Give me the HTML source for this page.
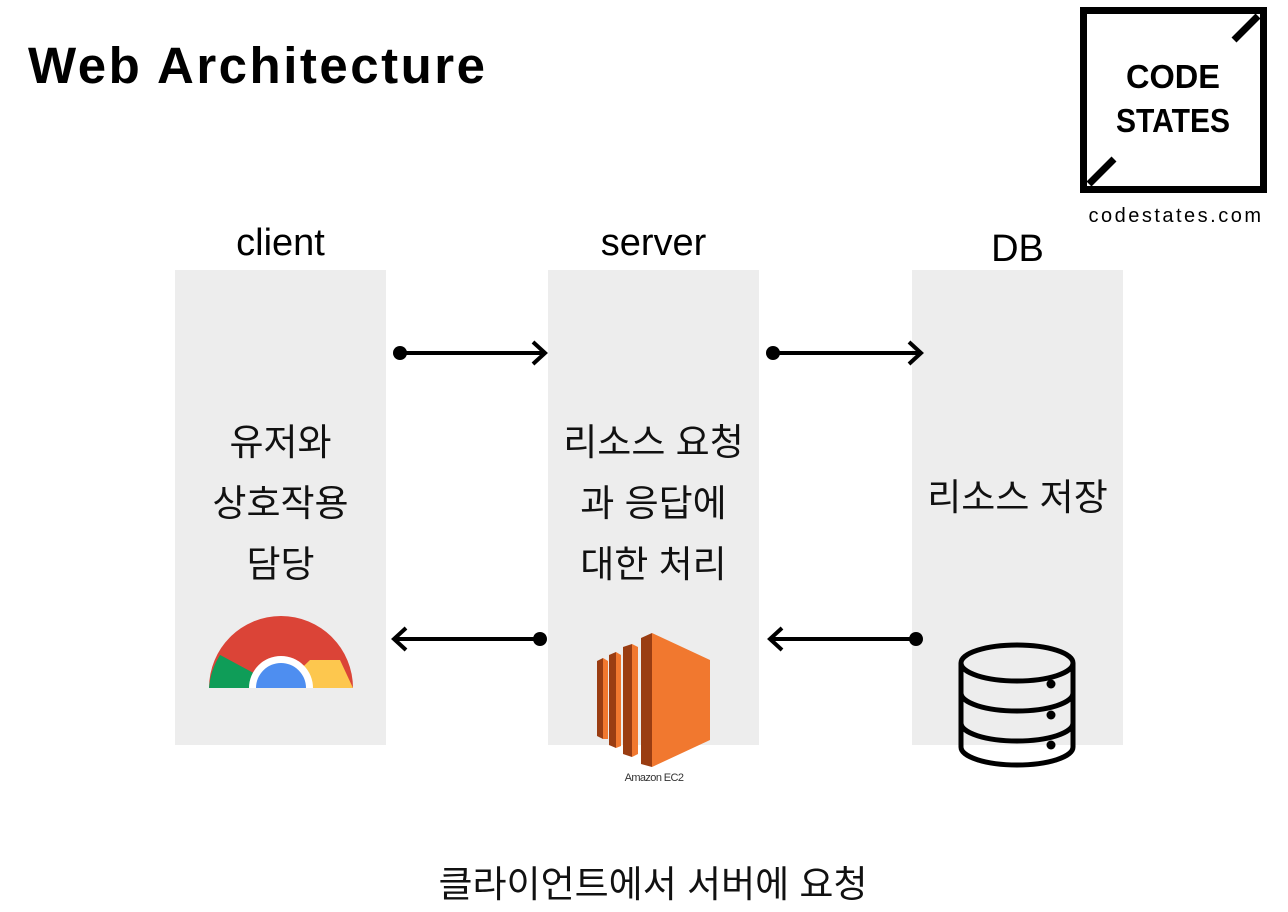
<!DOCTYPE html>
<html><head><meta charset="utf-8"><style>
body{margin:0;width:1288px;height:912px;background:#fff;position:relative;overflow:hidden;font-family:"Liberation Sans","Noto Sans CJK KR",sans-serif;}
.t{position:absolute;color:#000;}
.box{position:absolute;background:#ededed;top:270px;height:475px;width:211px;}
.k{position:absolute;text-align:center;font-size:37px;line-height:61px;color:#111;}
</style></head><body>
<div class="t" style="left:28px;top:36px;font-size:51px;font-weight:bold;letter-spacing:2.5px">Web Architecture</div>
<div class="box" style="left:175px"></div>
<div class="box" style="left:548px"></div>
<div class="box" style="left:912px"></div>
<div class="t" style="left:175px;width:211px;text-align:center;top:222px;font-size:38px">client</div>
<div class="t" style="left:548px;width:211px;text-align:center;top:222px;font-size:38px">server</div>
<div class="t" style="left:912px;width:211px;text-align:center;top:228px;font-size:38px">DB</div>
<div class="k" style="left:175px;width:211px;top:412px">유저와<br>상호작용<br>담당</div>
<div class="k" style="left:548px;width:211px;top:412px">리소스 요청<br>과 응답에<br>대한 처리</div>
<div class="k" style="left:912px;width:211px;top:467px">리소스 저장</div>
<div class="t" style="left:0;width:1306px;text-align:center;top:854px;font-size:37px;color:#111">클라이언트에서 서버에 요청</div>
<div class="t" style="left:1076px;width:200px;text-align:center;top:205px;font-size:20px;letter-spacing:2.5px">codestates.com</div>
<svg width="1288" height="912" style="position:absolute;left:0;top:0">
<g stroke="#000" stroke-width="4" fill="none">
<line x1="400" y1="353" x2="545" y2="353"/><polyline points="533,342 545,353 533,364"/>
<line x1="773" y1="353" x2="921" y2="353"/><polyline points="909,342 921,353 909,364"/>
<line x1="540" y1="639" x2="394" y2="639"/><polyline points="406,628 394,639 406,650"/>
<line x1="916" y1="639" x2="770" y2="639"/><polyline points="782,628 770,639 782,650"/>
</g>
<g fill="#000"><circle cx="400" cy="353" r="7"/><circle cx="773" cy="353" r="7"/><circle cx="540" cy="639" r="7"/><circle cx="916" cy="639" r="7"/></g>
<rect x="1083.5" y="10.5" width="180" height="179" fill="none" stroke="#000" stroke-width="7"/>
<line x1="1234" y1="40" x2="1258" y2="16" stroke="#000" stroke-width="7"/>
<line x1="1089" y1="184" x2="1114" y2="159" stroke="#000" stroke-width="7"/>
<text x="1173" y="88" text-anchor="middle" font-family="Liberation Sans" font-weight="bold" font-size="33" textLength="94" lengthAdjust="spacingAndGlyphs">CODE</text>
<text x="1173" y="132" text-anchor="middle" font-family="Liberation Sans" font-weight="bold" font-size="33" textLength="114" lengthAdjust="spacingAndGlyphs">STATES</text>
<clipPath id="half"><rect x="200" y="600" width="170" height="88"/></clipPath>
<g clip-path="url(#half)">
<circle cx="281" cy="688" r="72" fill="#db4437"/>
<path d="M281,688 L220,655 A72,72 0 0 0 209,688 Z" fill="#0f9d58"/>
<path d="M281,688 L220,655 L250,688 Z" fill="#0f9d58"/>
<path d="M281,688 L310,660 L340,660 L353,688 Z" fill="#fdc74e"/>
<circle cx="281" cy="688" r="32" fill="#fff"/>
<circle cx="281" cy="688" r="25" fill="#4e8ef0"/>
</g>
<g>
<polygon points="597,661 603,658 603,739 597,736" fill="#9a3d12"/><polygon points="603,658 608,661 608,739 603,739" fill="#f1782f"/>
<polygon points="609,655 616,652 616,748 609,745" fill="#9a3d12"/><polygon points="616,652 621,655 621,746 616,748" fill="#f1782f"/>
<polygon points="623,647 632,644 632,757 623,754" fill="#9a3d12"/><polygon points="632,644 638,647 638,754 632,757" fill="#f1782f"/>
<polygon points="641,638 652,633 652,767 641,764" fill="#9a3d12"/><polygon points="652,633 710,660 710,740 652,767" fill="#f1782f"/>
<text x="654" y="781" text-anchor="middle" font-family="Liberation Sans" font-size="11" fill="#333" letter-spacing="-0.6">Amazon EC2</text>
</g>
<g stroke="#000" stroke-width="5" fill="none">
<ellipse cx="1017" cy="663" rx="56" ry="18"/>
<path d="M961,663 V747 A56,18 0 0 0 1073,747 V663"/>
<path d="M961,693 A56,18 0 0 0 1073,693"/>
<path d="M961,723 A56,18 0 0 0 1073,723"/>
</g>
<g fill="#000"><circle cx="1051" cy="684" r="4.5"/><circle cx="1051" cy="715" r="4.5"/><circle cx="1051" cy="745" r="4.5"/></g>
</svg>
</body></html>
